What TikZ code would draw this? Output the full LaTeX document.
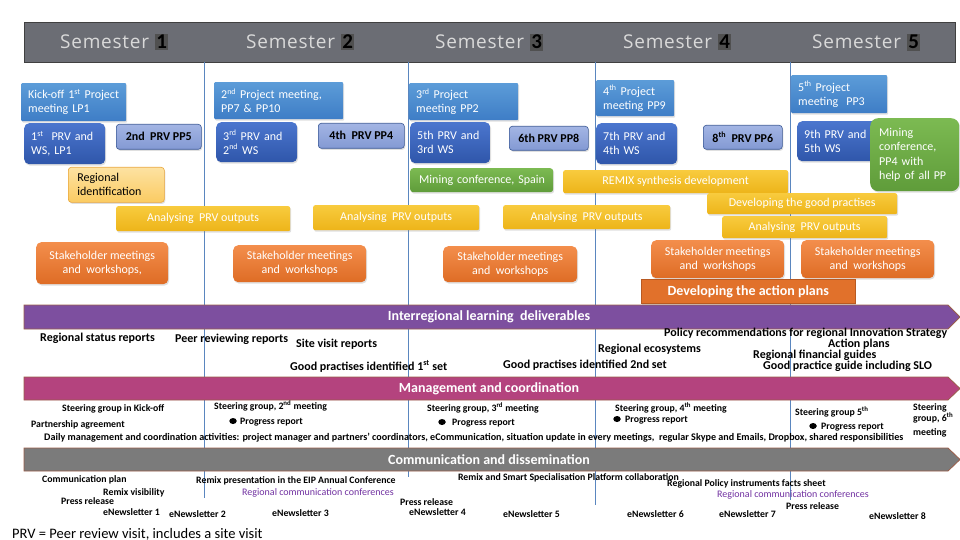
\documentclass[tikz,border=0pt]{standalone}
\usepackage{fontspec}
\setmainfont{Carlito}
\newfontfamily\headfont[LetterSpace=4]{Open Sans}
\usetikzlibrary{shadows,shapes.geometric}
\newcommand\myfs[2]{\fontsize{#1}{#2}\selectfont}
\definecolor{barbg}{HTML}{6B6D74}
\definecolor{barln}{HTML}{404040}
\definecolor{semtxt}{HTML}{D9D9D9}
\definecolor{numbg}{HTML}{505050}
\definecolor{divln}{HTML}{5A86BF}
\definecolor{meetT}{HTML}{5C9CD8}
\definecolor{meetB}{HTML}{3E7DC6}
\definecolor{wsT}{HTML}{4B76CE}
\definecolor{wsB}{HTML}{2F56AA}
\definecolor{ppT}{HTML}{A3B5E4}
\definecolor{ppB}{HTML}{8399D3}
\definecolor{ppD}{HTML}{3C5A96}
\definecolor{riT}{HTML}{FDE2A2}
\definecolor{riB}{HTML}{FBCB62}
\definecolor{riD}{HTML}{E9A63A}
\definecolor{yelT}{HTML}{F8CB3E}
\definecolor{yelB}{HTML}{EDB419}
\definecolor{grnT}{HTML}{7CBA52}
\definecolor{grnB}{HTML}{5F9C3A}
\definecolor{orT}{HTML}{F38E4C}
\definecolor{orB}{HTML}{DE6C25}
\definecolor{orD}{HTML}{B85A22}
\definecolor{purp}{HTML}{7D4F9F}
\definecolor{mgnt}{HTML}{B4437E}
\definecolor{commc}{HTML}{7B7B7B}
\definecolor{bandln}{HTML}{9A5E4A}
\definecolor{conf}{HTML}{7030A0}
\newcommand\numb[1]{{\setlength\fboxsep{1.5pt}\colorbox{numbg}{\rmfamily\bfseries\myfs{21}{21}\color{black}#1}}}
\begin{document}
\begin{tikzpicture}[x=1pt,y=-1pt,
  box/.style={anchor=north west, inner ysep=0pt, font=\myfs{12}{14},
    drop shadow={shadow xshift=1pt, shadow yshift=-1.5pt, opacity=0.25}},
  meet/.style={box, top color=meetT, bottom color=meetB, text=white, align=left, inner xsep=7pt, rounded corners=1pt},
  prvws/.style={box, top color=wsT, bottom color=wsB, text=white, align=left, inner xsep=7pt, rounded corners=5pt},
  prvpp/.style={box, top color=ppT, bottom color=ppB, draw=ppD, line width=0.6pt, text=black, font=\myfs{12}{14}\bfseries, align=center, inner xsep=0pt, rounded corners=3pt},
  regid/.style={box, top color=riT, bottom color=riB, draw=riD, line width=0.6pt, text=black, align=left, inner xsep=9pt, rounded corners=3pt},
  grn/.style={box, top color=grnT, bottom color=grnB, text=white, align=left, inner xsep=5pt, rounded corners=3pt},
  yel/.style={box, top color=yelT, bottom color=yelB, text=white, align=center, inner xsep=0pt, rounded corners=2pt},
  stake/.style={box, top color=orT, bottom color=orB, text=white, align=center, inner xsep=0pt, rounded corners=5pt},
  actionbox/.style={box, fill=orB!85!orT, draw=orD, line width=0.6pt, text=white, font=\myfs{14}{16}\bfseries, inner xsep=0pt},
  band/.style={draw=bandln, line width=0.8pt},
  bandlbl/.style={text=white, font=\myfs{14}{16}\bfseries, inner sep=0pt},
  semst/.style={anchor=base west, inner sep=0pt, text=semtxt, font=\headfont\myfs{19}{22}},
  divider/.style={draw=divln, line width=0.7pt},
  dl/.style={anchor=base west, inner sep=0pt, font=\myfs{12}{12}\bfseries},
  mg/.style={anchor=base west, inner sep=0pt, font=\myfs{9.8}{11}\bfseries},
  cf/.style={anchor=base west, inner sep=0pt, text=conf, font=\myfs{10}{11}},
  bul/.style={ellipse, fill=black, minimum width=7.5pt, minimum height=6pt, inner sep=0pt}
]
\useasboundingbox (0,0) rectangle (960,540);

% header
\node[draw=barln, line width=1pt, fill=barbg, minimum width=931pt, minimum height=40pt, anchor=north west, inner sep=0pt] (hdr) at (24,22) {};
\node[semst] (sem1) at (60,49) {Semester \numb{1}};
\node[semst] (sem2) at (246,49) {Semester \numb{2}};
\node[semst] (sem3) at (435,49) {Semester \numb{3}};
\node[semst] (sem4) at (623,49) {Semester \numb{4}};
\node[semst] (sem5) at (812,49) {Semester \numb{5}};

% semester dividers
\coordinate (v1t) at (204,62); \coordinate (v1b) at (204,498);
\coordinate (v2t) at (408,62); \coordinate (v2b) at (408,477);
\coordinate (v3t) at (595,62); \coordinate (v3b) at (595,505);
\coordinate (v4t) at (790,62); \coordinate (v4b) at (790,500);
\draw[divider] (v1t) -- (v1b);
\draw[divider] (v2t) -- (v2b);
\draw[divider] (v3t) -- (v3b);
\draw[divider] (v4t) -- (v4b);

% project meetings
\node[meet, text width=91pt, minimum height=38pt] (pm1) at (21,83) {Kick-off 1\textsuperscript{st} Project\\meeting LP1};
\node[meet, text width=115pt, minimum height=37pt] (pm2) at (214,82) {2\textsuperscript{nd} Project meeting,\\PP7 \& PP10};
\node[meet, text width=95pt, minimum height=37pt] (pm3) at (409,83) {3\textsuperscript{rd} Project\\meeting PP2};
\node[meet, text width=64pt, minimum height=36pt] (pm4) at (596,80) {4\textsuperscript{th} Project\\meeting PP9};
\node[meet, text width=82pt, minimum height=38pt] (pm5) at (791,75) {5\textsuperscript{th} Project\\meeting~ PP3};

% PRV and WS
\node[prvws, text width=67pt, minimum height=41pt] (w1) at (24,123) {1\textsuperscript{st}~ PRV and\\WS, LP1};
\node[prvws, text width=67pt, minimum height=40pt] (w2) at (216,122) {3\textsuperscript{rd} PRV and\\2\textsuperscript{nd} WS};
\node[prvws, text width=66pt, minimum height=41pt] (w3) at (410,122) {5th PRV and\\3rd WS};
\node[prvws, text width=67pt, minimum height=41pt] (w4) at (596,123) {7th PRV and\\4th WS};
\node[prvws, text width=67pt, minimum height=40pt] (w5) at (797,121) {9th PRV and\\5th WS};

% PRV PP
\node[prvpp, minimum width=85pt, minimum height=25pt] (p1) at (116,124) {2nd~ PRV PP5};
\node[prvpp, minimum width=86pt, minimum height=25pt] (p2) at (318,123) {4th~ PRV PP4};
\node[prvpp, minimum width=79pt, minimum height=24pt] (p3) at (509,126) {6th PRV PP8};
\node[prvpp, minimum width=79pt, minimum height=24pt] (p4) at (703,125) {8\textsuperscript{th}~ PRV PP6};

% regional identification
\node[regid, text width=78pt, minimum height=35pt] (ri) at (68,167) {Regional\\identification};

% green
\node[grn, text width=133pt, minimum height=24pt, inner xsep=5pt] (g1) at (410,168) {\hspace*{4pt}Mining conference, Spain};
\node[grn, text width=71pt, minimum height=73pt, inner xsep=9pt, rounded corners=8pt, font=\myfs{12}{14.5}] (g2) at (870,118) {Mining\\conference,\\PP4 with\\help of all PP};

% yellow
\node[yel, minimum width=225pt, minimum height=23pt] (remix) at (563,170) {REMIX synthesis development};
\node[yel, minimum width=174pt, minimum height=25pt] (y1) at (116,206) {Analysing~ PRV outputs};
\node[yel, minimum width=166pt, minimum height=25pt] (y2) at (313,205) {Analysing~ PRV outputs};
\node[yel, minimum width=167pt, minimum height=24pt] (y3) at (503,205) {Analysing~ PRV outputs};
\node[yel, minimum width=190pt, minimum height=21pt] (gp) at (707,193) {Developing the good practises};
\node[yel, minimum width=165pt, minimum height=22pt] (y4) at (722,216) {Analysing~ PRV outputs};

% stakeholders
\node[stake, minimum width=132pt, minimum height=42pt] (s1) at (36,242) {Stakeholder meetings\\and~ workshops,};
\node[stake, minimum width=133pt, minimum height=37pt] (s2) at (233,245) {Stakeholder meetings\\and~ workshops};
\node[stake, minimum width=134pt, minimum height=36pt] (s3) at (443,246) {Stakeholder meetings\\and~ workshops};
\node[stake, minimum width=133pt, minimum height=38pt] (s4) at (651,240) {Stakeholder meetings\\and~ workshops};
\node[stake, minimum width=133pt, minimum height=38pt] (s5) at (801,240) {Stakeholder meetings\\and~ workshops};
\node[actionbox, minimum width=214pt, minimum height=24pt] (act) at (641,279) {Developing the action plans};

% bands
\path[band, fill=purp] (24,305) -- (948,305) -- (960,317) -- (948,329) -- (24,329) -- cycle;
\node[bandlbl] (b1) at (489,317) {Interregional learning~ deliverables};
\path[band, fill=mgnt] (24,377) -- (948,377) -- (960,388.5) -- (948,400) -- (24,400) -- cycle;
\node[bandlbl] (b2) at (489,388.5) {Management and coordination};
\path[band, fill=commc] (24,448) -- (948,448) -- (960,459.5) -- (948,471) -- (24,471) -- cycle;
\node[bandlbl] (b3) at (489,459.5) {Communication and dissemination};

% deliverables
\node[dl] (d1) at (40,341) {Regional status reports};
\node[dl] (d2) at (175,342) {Peer reviewing reports};
\node[dl] (d3) at (296,347) {Site visit reports};
\node[dl] (d4) at (290,370) {Good practises identified 1\textsuperscript{st} set};
\node[dl] (d5) at (503,368) {Good practises identified 2nd set};
\node[dl] (d6) at (598,352) {Regional ecosystems};
\node[dl] (d7) at (664,336.5) {Policy recommendations for regional Innovation Strategy};
\node[dl] (d8) at (828,347.5) {Action plans};
\node[dl] (d9) at (753,358) {Regional financial guides};
\node[dl] (d10) at (763,369.5) {Good practice guide including SLO};

% management
\node[mg] (m1) at (62,411.5) {Steering group in Kick-off};
\node[mg] (m2) at (31,427.5) {Partnership agreement};
\node[mg] (m3) at (214,409.5) {Steering group, 2\textsuperscript{nd} meeting};
\node[bul] (bl1) at (233,421) {};
\node[mg] (m4) at (240,424.5) {Progress report};
\node[mg, font=\myfs{10.1}{11}\bfseries] (m5) at (44,440.5) {Daily management and coordination activities: project manager and partners’ coordinators, eCommunication, situation update in every meetings,~ regular Skype and Emails, Dropbox, shared responsibilities};
\node[mg] (m6) at (427,411.5) {Steering group, 3\textsuperscript{rd} meeting};
\node[bul] (bl2) at (442,422) {};
\node[mg] (m7) at (452,425.5) {Progress report};
\node[mg] (m8) at (615,411.5) {Steering group, 4\textsuperscript{th} meeting};
\node[bul] (bl3) at (617,419) {};
\node[mg] (m9) at (625,422.5) {Progress report};
\node[mg] (m10) at (795,415.5) {Steering group 5\textsuperscript{th}};
\node[bul] (bl4) at (813,426) {};
\node[mg] (m11) at (821,429.5) {Progress report};
\node[mg] (m12a) at (913,410) {Steering};
\node[mg] (m12b) at (913,421.5) {group, 6\textsuperscript{th}};
\node[mg] (m12c) at (913,435) {meeting};

% communication
\node[mg] (c1) at (42,482.5) {Communication plan};
\node[mg] (c2) at (103,495.5) {Remix visibility};
\node[mg] (c3) at (61,504.5) {Press release};
\node[mg] (c4) at (103,515.5) {eNewsletter 1};
\node[mg] (c5) at (169,517.5) {eNewsletter 2};
\node[mg] (c6) at (196,483.5) {Remix presentation in the EIP Annual Conference};
\node[cf] (c7) at (242,495.5) {Regional communication conferences};
\node[mg] (c8) at (272,516.5) {eNewsletter 3};
\node[mg] (c9) at (400,505.5) {Press release};
\node[mg] (c10) at (409,515.5) {eNewsletter 4};
\node[mg, anchor=base east] (c11) at (679,480.5) {Remix and Smart Specialisation Platform collaboration};
\node[mg] (c12) at (667,486.5) {Regional Policy instruments facts sheet};
\node[cf] (c13) at (717,497.5) {Regional communication conferences};
\node[mg] (c14) at (786,509.5) {Press release};
\node[mg] (c15) at (503,517.5) {eNewsletter 5};
\node[mg] (c16) at (627,517.5) {eNewsletter 6};
\node[mg] (c17) at (719,517.5) {eNewsletter 7};
\node[mg] (c18) at (869,519.5) {eNewsletter 8};

% footnote
\node[anchor=base west, inner sep=0pt, font=\myfs{14.5}{16}] (fn) at (12,538) {PRV = Peer review visit, includes a site visit};
\end{tikzpicture}
\end{document}
